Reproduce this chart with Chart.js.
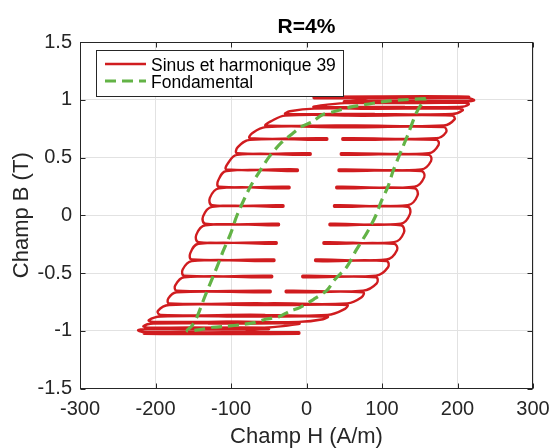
<!DOCTYPE html>
<html>
<head>
<meta charset="utf-8">
<script src="https://cdn.jsdelivr.net/npm/chart.js@4.4.1/dist/chart.umd.min.js"></script>
<style>
    html, body { margin: 0; padding: 0; background: #fff; }
</style>
</head>
<body>
<canvas id="cycleChart" width="551" height="448"></canvas>
<script>
// Textes et graduations
const titre = 'R=4%';
const nomsSeries = ['Sinus et harmonique 39', 'Fondamental'];
const axeX = 'Champ H (A/m)';
const axeY = 'Champ B (T)';
const ticksX = [-300, -200, -100, 0, 100, 200, 300];
const ticksY = [-1.5, -1, -0.5, 0, 0.5, 1, 1.5];

// Branche montante (petites boucles à droite), du bas vers le haut
const monteeB = [-1.02, -0.98, -0.93, -0.87, -0.77, -0.66, -0.53, -0.39, -0.24, -0.08, 0.08, 0.24, 0.39, 0.53, 0.66, 0.77, 0.87, 0.93, 0.98, 1.02];
const monteeBoutArcH = [-82, -56, -10, 28, 54, 75, 92, 106, 116, 125, 134, 143, 152, 162, 172, 182, 193, 203, 210, 214];
const monteeBoutLibreH = [-215, -180, -130, -90, -55, -27, -5, 12, 23, 31, 37, 40, 43, 46, 48, 52, 55, 57, 50, 10];
const monteeArcB = [-0.995, -0.955, -0.90, -0.81, -0.71, -0.59, -0.45, -0.30, -0.15, 0.01, 0.17, 0.33, 0.47, 0.61, 0.72, 0.83, 0.91, 0.96, 0.995];
const monteeArcH = [-70, -25, 22, 51, 73, 93, 108, 120, 129, 137, 147, 156, 165, 175, 185, 196, 207, 215, 222];

// Branche descendante (petites boucles à gauche), du haut vers le bas
const descenteB = [1.02, 0.98, 0.93, 0.87, 0.77, 0.66, 0.53, 0.39, 0.24, 0.08, -0.08, -0.24, -0.39, -0.53, -0.66, -0.77, -0.87, -0.93, -0.98, -1.02];
const descenteBoutArcH = [82, 56, 10, -28, -54, -75, -92, -106, -116, -125, -134, -143, -152, -162, -172, -182, -193, -203, -210, -214];
const descenteBoutLibreH = [215, 180, 130, 90, 55, 27, 5, -12, -23, -31, -37, -40, -43, -46, -48, -52, -55, -57, -50, -10];
const descenteArcB = [0.995, 0.955, 0.90, 0.81, 0.71, 0.59, 0.45, 0.30, 0.15, -0.01, -0.17, -0.33, -0.47, -0.61, -0.72, -0.83, -0.91, -0.96, -0.995];
const descenteArcH = [70, 25, -22, -48, -72, -91, -104, -117, -128, -137, -146, -154, -164, -174, -183, -197, -209, -216, -223];

// demi-hauteur d'une petite boucle (T)
const demiEpaisseur = 0.007;

// Cycle fondamental : descente puis montée
const fondH = [158, 130, 110, 88, 70, 54, 38, 21, 8, -6, -18, -33, -49, -62, -75, -92, -100, -111, -115, -125, -135, -145, -152, -158,
               -141, -124, -105, -90, -69, -54, -37, -22, -9, 9, 27, 37, 53, 66, 81, 92, 99, 108, 115, 125, 135, 145, 152, 158];
const fondB = [1.01, 1.0, 0.99, 0.97, 0.95, 0.93, 0.9, 0.87, 0.81, 0.77, 0.71, 0.63, 0.51, 0.38, 0.24, 0.0, -0.15, -0.32, -0.39, -0.55, -0.71, -0.88, -0.96, -1.0,
               -0.99, -0.97, -0.96, -0.95, -0.93, -0.9, -0.88, -0.83, -0.8, -0.73, -0.65, -0.56, -0.45, -0.3, -0.14, 0.0, 0.12, 0.25, 0.39, 0.55, 0.71, 0.88, 0.96, 1.01];

const rouge = '#d01c1f';
const vert = '#63b346';
const police = "'Liberation Sans', Arial, Helvetica, sans-serif";
const gris = '#262626';

// Trajet d'une branche : aller-retour à chaque niveau puis arc vers le niveau suivant
function branche(niveauB, boutArcH, boutLibreH, arcB, arcH, sens) {
    const pts = [];
    niveauB.forEach((b, i) => {
        pts.push({x: boutArcH[i], y: b - sens * demiEpaisseur});
        pts.push({x: boutLibreH[i], y: b - sens * demiEpaisseur});
        pts.push({x: boutLibreH[i], y: b + sens * demiEpaisseur});
        pts.push({x: boutArcH[i], y: b + sens * demiEpaisseur});
        if (i < arcB.length) {
            pts.push({x: arcH[i], y: arcB[i]});
        }
    });
    return pts;
}

const pointsRouges = branche(monteeB, monteeBoutArcH, monteeBoutLibreH, monteeArcB, monteeArcH, 1)
    .concat(branche(descenteB, descenteBoutArcH, descenteBoutLibreH, descenteArcB, descenteArcH, -1));
pointsRouges.push(pointsRouges[0]);

const pointsVerts = fondH.map((h, i) => ({x: h, y: fondB[i]}));

// Cadre, graduations intérieures, titre et légende façon MATLAB
const cadrePlugin = {
    id: 'cadre',
    afterDraw(chart) {
        const {ctx, chartArea: a, scales: {x, y}} = chart;
        ctx.save();
        ctx.strokeStyle = gris;
        ctx.lineWidth = 1;
        const l = Math.round(a.left) + 0.5, r = Math.round(a.right) - 0.5;
        const t = Math.round(a.top) + 0.5, b = Math.round(a.bottom) - 0.5;
        ctx.strokeRect(l, t, r - l, b - t);
        ctx.beginPath();
        ticksX.forEach(v => {
            const px = Math.round(x.getPixelForValue(v)) + 0.5;
            ctx.moveTo(px, b); ctx.lineTo(px, b - 5);
            ctx.moveTo(px, t); ctx.lineTo(px, t + 5);
        });
        ticksY.forEach(v => {
            const py = Math.round(y.getPixelForValue(v)) + 0.5;
            ctx.moveTo(l, py); ctx.lineTo(l + 5, py);
            ctx.moveTo(r, py); ctx.lineTo(r - 5, py);
        });
        ctx.stroke();

        // titre
        ctx.fillStyle = '#000';
        ctx.font = 'bold 21px ' + police;
        ctx.textAlign = 'center';
        ctx.textBaseline = 'alphabetic';
        ctx.fillText(titre, (a.left + a.right) / 2, 32.5);

        // légende
        const lx = a.left + 16, ly = a.top + 8;
        ctx.fillStyle = '#fff';
        ctx.fillRect(lx, ly, 247, 46);
        ctx.strokeStyle = gris;
        ctx.strokeRect(lx + 0.5, ly + 0.5, 247, 46);
        ctx.lineWidth = 2.4;
        ctx.strokeStyle = rouge;
        ctx.beginPath();
        ctx.moveTo(lx + 9, ly + 14); ctx.lineTo(lx + 50, ly + 14);
        ctx.stroke();
        ctx.lineWidth = 3.2;
        ctx.strokeStyle = vert;
        ctx.setLineDash([11, 6]);
        ctx.beginPath();
        ctx.moveTo(lx + 9, ly + 31); ctx.lineTo(lx + 50, ly + 31);
        ctx.stroke();
        ctx.setLineDash([]);
        ctx.fillStyle = '#000';
        ctx.font = '17.5px ' + police;
        ctx.textAlign = 'left';
        ctx.fillText(nomsSeries[0], lx + 55, ly + 20.5);
        ctx.fillText(nomsSeries[1], lx + 55, ly + 38);
        ctx.restore();
    }
};

let ctx = document.getElementById('cycleChart').getContext('2d');
let cycleChart = new Chart(ctx, {
    type: 'scatter',
    data: {
        datasets: [{
            label: nomsSeries[0],
            data: pointsRouges,
            showLine: true,
            borderColor: rouge,
            borderWidth: 2.4,
            pointRadius: 0,
            tension: 0.4,
            order: 1
        }, {
            label: nomsSeries[1],
            data: pointsVerts,
            showLine: true,
            borderColor: vert,
            borderWidth: 3.2,
            borderDash: [11, 6],
            pointRadius: 0,
            tension: 0.3,
            order: 0
        }]
    },
    options: {
        responsive: false,
        animation: false,
        devicePixelRatio: 1,
        layout: { padding: { top: 42, right: 18, bottom: 0, left: 0 } },
        plugins: {
            legend: { display: false },
            title: { display: false },
            tooltip: { enabled: false }
        },
        scales: {
            x: {
                type: 'linear',
                min: -300,
                max: 300,
                afterBuildTicks: s => { s.ticks = ticksX.map(v => ({value: v})); },
                afterFit: s => { s.height = 59.5; s.paddingLeft = 0; s.paddingRight = 0; },
                grid: { color: '#e2e2e2', drawTicks: false },
                border: { display: false },
                ticks: {
                    autoSkip: false,
                    maxRotation: 0,
                    padding: 9,
                    color: gris,
                    font: { family: police, size: 20 },
                    callback: v => String(v)
                },
                title: {
                    display: true,
                    text: axeX,
                    color: gris,
                    font: { family: police, size: 22, lineHeight: 1 },
                    padding: 0
                }
            },
            y: {
                type: 'linear',
                min: -1.5,
                max: 1.5,
                afterBuildTicks: s => { s.ticks = ticksY.map(v => ({value: v})); },
                afterFit: s => { s.width = 80; s.paddingTop = 0; s.paddingBottom = 0; },
                grid: { color: '#e2e2e2', drawTicks: false },
                border: { display: false },
                ticks: {
                    autoSkip: false,
                    padding: 8,
                    color: gris,
                    font: { family: police, size: 20 },
                    callback: v => String(v)
                },
                title: {
                    display: true,
                    text: axeY,
                    color: gris,
                    font: { family: police, size: 22, lineHeight: 1.2 },
                    padding: { top: 9, bottom: 0 }
                }
            }
        }
    },
    plugins: [cadrePlugin]
});
</script>
</body>
</html>
